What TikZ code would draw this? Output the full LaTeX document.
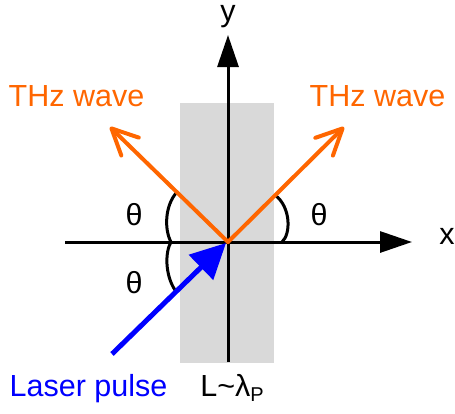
\documentclass[tikz,border=0pt]{standalone}
\usepackage{fontspec}
\setmainfont{Liberation Sans}
\usetikzlibrary{arrows.meta}
\definecolor{thzorange}{RGB}{255,102,0}
\definecolor{laserblue}{RGB}{0,0,255}
\definecolor{slabgray}{RGB}{217,217,217}
\tikzset{
  lbl/.style={inner sep=0pt, anchor=base, font=\fontsize{30.5}{36}\selectfont},
  axisline/.style={line width=3pt, draw=black, -{Triangle[length=32pt,width=21pt]}},
  anglearc/.style={line width=3pt, draw=black},
  thzarrow/.style={line width=4pt, draw=thzorange, line cap=round, -{Straight Barb[length=26pt,width=25pt,round]}},
  laserarrow/.style={line width=5pt, draw=laserblue, -{Triangle[length=35pt,width=34pt]}},
}
\begin{document}
\begin{tikzpicture}[x=1pt,y=-1pt]
\useasboundingbox (0,0) rectangle (455,413);
% slab
\fill[slabgray] (180,103) rectangle (274,363);
% coordinates
\coordinate (O) at (228,242);
\coordinate (xs) at (65,242);
\coordinate (xe) at (412,242);
\coordinate (ys) at (228,362);
\coordinate (ye) at (228,35);
\coordinate (tl) at (110,127);
\coordinate (tr) at (344,127);
\coordinate (ls) at (112,354);
\coordinate (lt) at (226,243);
\coordinate (a1) at (177,192);
\coordinate (a2) at (171,242);
\coordinate (a3) at (175,290);
\coordinate (b1) at (275,195);
\coordinate (b2) at (282,242);
% axes
\draw[axisline] (xs) -- (xe);
\draw[axisline] (ys) -- (ye);
% angle arcs
\draw[anglearc] (a1) .. controls (165,205) and (164,229) .. (a2);
\draw[anglearc] (a2) .. controls (165,252) and (165,275) .. (a3);
\draw[anglearc] (b1) .. controls (291,207) and (291,234) .. (b2);
% THz waves
\draw[thzarrow] (O) -- (tl);
\draw[thzarrow] (O) -- (tr);
% laser
\draw[laserarrow] (ls) -- (lt);
% labels
\node[lbl] (xl) at (447,244) {x};
\node[lbl, text height=16pt, text depth=7pt] (yl) at (228,21) {y};
\node[lbl, text=thzorange] (thzL) at (76.5,106) {THz wave};
\node[lbl, text=thzorange] (thzR) at (377.5,106) {THz wave};
\node[lbl] (th1) at (134,225) {θ};
\node[lbl] (th2) at (134,293) {θ};
\node[lbl] (th3) at (319,225) {θ};
\node[lbl, text=laserblue] (laser) at (88.5,396) {Laser pulse};
\node[lbl] (lam) at (232,396) {L\textasciitilde λ\raisebox{-5pt}{\fontsize{20}{20}\selectfont P}};
\end{tikzpicture}
\end{document}
